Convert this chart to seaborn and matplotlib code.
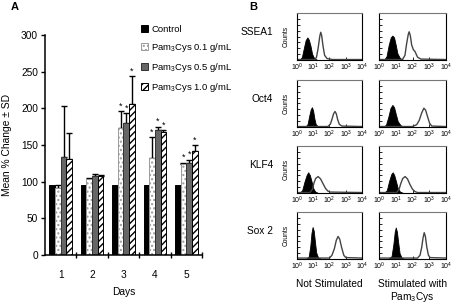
import numpy as np
import pandas as pd
import matplotlib
matplotlib.use("Agg")
import matplotlib.pyplot as plt
import seaborn as sb

sb.set_style("white")
plt.rcParams['font.family'] = ['Liberation Sans', 'DejaVu Sans']
plt.rcParams['mathtext.fontset'] = 'custom'
plt.rcParams['mathtext.rm'] = 'Liberation Sans'
plt.rcParams['mathtext.it'] = 'Liberation Sans:italic'
plt.rcParams['mathtext.bf'] = 'Liberation Sans:bold'
plt.rcParams['hatch.linewidth'] = 1.0
for key in ['text.color', 'axes.labelcolor', 'xtick.color', 'ytick.color']:
    plt.rcParams[key] = 'black'

# Panel A data (mean % change, + SD)
days = ["1", "2", "3", "4", "5"]
treatments = ["Control", "Pam$_3$Cys 0.1 g/mL", "Pam$_3$Cys 0.5 g/mL", "Pam$_3$Cys 1.0 g/mL"]
control = [96, 96, 96, 96, 96]
pam_01 = [92, 104, 173, 132, 124]
pam_05 = [133, 108, 180, 170, 126]
pam_10 = [131, 108, 206, 168, 142]
sd_01 = [4, 1, 23, 29, 2]
sd_05 = [70, 2, 13, 5, 4]
sd_10 = [35, 1.5, 38, 2, 8]
star_01 = [0, 0, 1, 1, 1]
star_05 = [0, 0, 1, 1, 1]
star_10 = [0, 0, 1, 1, 1]

# Panel B data: (log10 fluorescence, counts %)
markers = ["SSEA1", "Oct4", "KLF4", "Sox 2"]
ssea1_ns_fill = [(0.15, 0), (0.3, 6), (0.42, 25), (0.53, 42), (0.64, 48), (0.73, 43), (0.83, 30), (0.93, 13), (1.05, 4), (1.25, 0)]
ssea1_ns_open = [(0.0, 1), (1.1, 1), (1.2, 6), (1.3, 25), (1.4, 50), (1.46, 59), (1.52, 52), (1.6, 30), (1.7, 10), (1.85, 3), (2.2, 1), (4.0, 1)]
ssea1_st_fill = [(0.3, 0), (0.45, 8), (0.58, 32), (0.7, 48), (0.8, 52), (0.9, 48), (1.0, 32), (1.1, 14), (1.25, 4), (1.45, 0)]
ssea1_st_open = [(0.0, 1), (1.4, 1), (1.55, 10), (1.65, 35), (1.75, 55), (1.8, 60), (1.87, 52), (1.95, 32), (2.05, 22), (2.15, 18), (2.3, 6), (2.5, 2), (4.0, 1)]
oct4_ns_fill = [(0.5, 0), (0.65, 6), (0.76, 25), (0.85, 38), (0.92, 42), (0.99, 35), (1.07, 18), (1.15, 6), (1.3, 1), (1.5, 0)]
oct4_ns_open = [(0.0, 1), (1.9, 1), (2.05, 6), (2.15, 16), (2.25, 28), (2.34, 33), (2.42, 28), (2.5, 16), (2.6, 6), (2.75, 2), (4.0, 1)]
oct4_st_fill = [(0.25, 0), (0.42, 5), (0.56, 22), (0.68, 40), (0.8, 47), (0.9, 42), (1.0, 28), (1.12, 12), (1.28, 4), (1.5, 0)]
oct4_st_open = [(0.0, 1), (2.0, 1), (2.25, 5), (2.4, 14), (2.55, 30), (2.68, 40), (2.78, 36), (2.9, 22), (3.02, 8), (3.15, 2), (4.0, 1)]
klf4_ns_fill = [(0.15, 0), (0.32, 6), (0.46, 24), (0.59, 38), (0.69, 44), (0.79, 38), (0.9, 24), (1.0, 10), (1.12, 3), (1.3, 0)]
klf4_ns_open = [(0.0, 1), (0.8, 1), (0.95, 8), (1.05, 22), (1.15, 31), (1.3, 35), (1.45, 30), (1.6, 20), (1.75, 10), (1.9, 4), (2.05, 2), (4.0, 1)]
klf4_st_fill = [(0.3, 0), (0.47, 6), (0.6, 25), (0.73, 40), (0.82, 44), (0.91, 38), (1.02, 24), (1.12, 10), (1.25, 3), (1.45, 0)]
klf4_st_open = [(0.0, 1), (1.05, 1), (1.2, 8), (1.3, 20), (1.42, 31), (1.56, 35), (1.7, 30), (1.85, 18), (2.0, 8), (2.15, 3), (2.3, 1), (4.0, 1)]
sox2_ns_fill = [(0.55, 0), (0.72, 5), (0.82, 28), (0.89, 55), (0.96, 68), (1.03, 60), (1.1, 38), (1.18, 14), (1.3, 3), (1.5, 0)]
sox2_ns_open = [(0.0, 2), (2.0, 2), (2.15, 8), (2.3, 22), (2.42, 40), (2.53, 48), (2.63, 42), (2.75, 24), (2.88, 8), (3.0, 3), (4.0, 2)]
sox2_st_fill = [(0.55, 0), (0.75, 6), (0.86, 32), (0.94, 58), (1.0, 67), (1.07, 58), (1.15, 34), (1.23, 12), (1.35, 3), (1.5, 0)]
sox2_st_open = [(0.0, 2), (2.3, 2), (2.45, 8), (2.55, 25), (2.63, 45), (2.7, 56), (2.77, 48), (2.85, 26), (2.95, 8), (3.05, 3), (4.0, 2)]

W, H = 452, 304
fig = plt.figure(figsize=(W / 100, H / 100), dpi=100)


def px(l, t, r, b):
    return [l / W, 1 - b / H, (r - l) / W, (b - t) / H]


# ---------------- Panel A ----------------
ax = fig.add_axes(px(45, 35, 202, 255))
df = pd.DataFrame({
    "Day": days * 4,
    "Treatment": np.repeat(treatments, len(days)),
    "Value": control + pam_01 + pam_05 + pam_10,
})
sb.barplot(data=df, x="Day", y="Value", hue="Treatment", order=days, hue_order=treatments,
           errorbar=None, width=0.72, saturation=1, legend=False, ax=ax,
           palette=["black", "white", "#6b6b6b", "white"])

styles = [dict(fc="black", ec="black", hatch=None),
          dict(fc="white", ec="#9a9a9a", hatch="...."),
          dict(fc="#666666", ec="#333333", hatch=None),
          dict(fc="white", ec="black", hatch="/////")]
for cont, st in zip(ax.containers, styles):
    for p in cont:
        p.set_facecolor(st["fc"])
        p.set_edgecolor(st["ec"])
        p.set_linewidth(0.7)
        p.set_hatch(st["hatch"])
        p.set_zorder(2)

# error bars (upper only) and significance stars
for cont, vals, sds, stars in zip(ax.containers[1:], [pam_01, pam_05, pam_10],
                                  [sd_01, sd_05, sd_10], [star_01, star_05, star_10]):
    for p, v, e, s in zip(cont, vals, sds, stars):
        xc = p.get_x() + p.get_width() / 2
        ax.errorbar(xc, v, yerr=[[0], [e]], fmt="none", ecolor="black",
                    elinewidth=1.0, capsize=2.2, capthick=1.0, zorder=1.5)
        if s:
            ax.text(xc, v + e + 7, "*", ha="center", va="center", fontsize=6.5)

ax.set_xlim(-0.5, 4.5)
ax.set_ylim(0, 300)
ax.set_yticks(range(0, 301, 50))
ax.set_xticks(range(5))
ax.set_xticks([0.5, 1.5, 2.5, 3.5, 4.5], minor=True)
ax.tick_params(axis="y", which="major", left=True, direction="out", length=3, width=1,
               pad=2, labelsize=7.3)
ax.tick_params(axis="x", which="major", length=0, pad=11, labelsize=7.3)
ax.tick_params(axis="x", which="minor", bottom=True, direction="inout", length=5, width=1)
for side in ["top", "right"]:
    ax.spines[side].set_visible(False)
for side in ["left", "bottom"]:
    ax.spines[side].set_color("black")
    ax.spines[side].set_linewidth(1.1)
ax.set_xlabel("Days", fontsize=7.4)
ax.xaxis.set_label_coords(0.5, -0.145)
ax.set_ylabel("Mean % Change ± SD", fontsize=7.4)
ax.yaxis.set_label_coords(-0.21, 0.5)

ax.legend(handles=ax.containers, labels=treatments, loc="upper left",
          bbox_to_anchor=(141 / W, 1 - 25 / H), bbox_transform=fig.transFigure,
          frameon=False, fontsize=6.8, handlelength=0.75, handleheight=0.75,
          handletextpad=0.35, labelspacing=0.75, borderaxespad=0, borderpad=0)

fig.text(15 / W, 1 - 7 / H, "A", fontsize=8, fontweight="bold", ha="center", va="center")
fig.text(253 / W, 1 - 7 / H, "B", fontsize=8, fontweight="bold", ha="center", va="center")

# ---------------- Panel B ----------------
curves = [(ssea1_ns_fill, ssea1_ns_open, ssea1_st_fill, ssea1_st_open),
          (oct4_ns_fill, oct4_ns_open, oct4_st_fill, oct4_st_open),
          (klf4_ns_fill, klf4_ns_open, klf4_st_fill, klf4_st_open),
          (sox2_ns_fill, sox2_ns_open, sox2_st_fill, sox2_st_open)]
col_x = [(297, 362), (379, 446)]
row_top = [13, 80, 146, 212]
box_h = 47

for r, (name, cset) in enumerate(zip(markers, curves)):
    t = row_top[r]
    for c in range(2):
        fill_pts = np.array(cset[2 * c])
        open_pts = np.array(cset[2 * c + 1])
        bx = fig.add_axes(px(col_x[c][0], t, col_x[c][1], t + box_h))
        bx.fill_between(10 ** fill_pts[:, 0], fill_pts[:, 1], color="black", lw=0.6)
        sb.lineplot(x=10 ** open_pts[:, 0], y=open_pts[:, 1], ax=bx, color="#444444",
                    lw=1.0, sort=False, estimator=None)
        bx.set_xscale("log")
        bx.set_xlim(1, 1e4)
        bx.set_ylim(0, 100)
        bx.set_xticks([1, 10, 100, 1000, 10000])
        bx.set_xticklabels(["$10^{0}$", "$10^{1}$", "$10^{2}$", "$10^{3}$", "$10^{4}$"])
        bx.set_yticks(np.arange(0, 101, 12.5))
        bx.set_yticklabels([])
        bx.tick_params(axis="x", which="major", bottom=True, direction="in", length=2.5,
                       width=0.6, pad=1.5, labelsize=5)
        bx.tick_params(axis="x", which="minor", bottom=True, direction="in", length=1.5, width=0.5)
        bx.tick_params(axis="y", which="major", left=True, direction="in", length=1.8, width=0.6)
        for sp in bx.spines.values():
            sp.set_color("black")
            sp.set_linewidth(0.8)
        bx.spines["top"].set_color("#777777")
        bx.set_xlabel("")
        if c == 0:
            bx.set_ylabel("Counts", fontsize=4.8)
            bx.yaxis.set_label_coords(-0.12, 0.5)
            fig.text(273 / W, 1 - (t + 19) / H, name, fontsize=7.3, ha="right", va="center")
        else:
            bx.set_ylabel("")

fig.text(329.5 / W, 1 - 284 / H, "Not Stimulated", fontsize=7.3, ha="center", va="center")
fig.text(412.5 / W, 1 - 284 / H, "Stimulated with", fontsize=7.3, ha="center", va="center")
fig.text(412.5 / W, 1 - 297 / H, "Pam$_3$Cys", fontsize=7.3, ha="center", va="center")

fig.savefig("out.png", dpi=100)
